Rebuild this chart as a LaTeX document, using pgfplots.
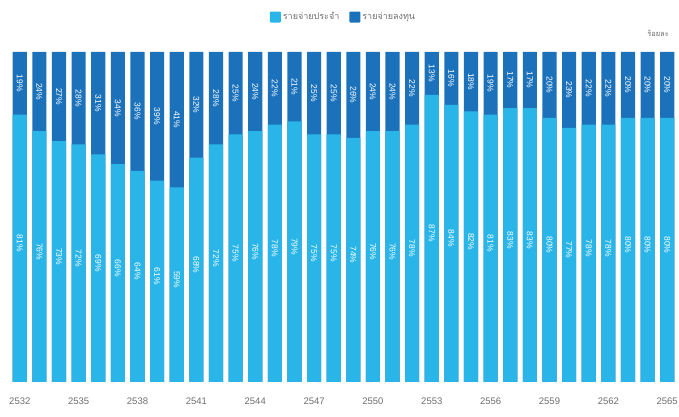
\documentclass[border=0pt]{standalone}
\usepackage{fontspec}
\setmainfont{Liberation Sans}
\newfontfamily\thaifont[Script=Thai]{Loma}
\usepackage{pgfplots}
\usepackage{pgfplotstable}
\pgfplotsset{compat=1.18}
\definecolor{lightb}{RGB}{41,181,232}
\definecolor{darkb}{RGB}{27,114,187}
\definecolor{txtgray}{RGB}{110,110,110}
\pgfplotstableread{
year light dark
2532 81 19
2533 76 24
2534 73 27
2535 72 28
2536 69 31
2537 66 34
2538 64 36
2539 61 39
2540 59 41
2541 68 32
2542 72 28
2543 75 25
2544 76 24
2545 78 22
2546 79 21
2547 75 25
2548 75 25
2549 74 26
2550 76 24
2551 76 24
2552 78 22
2553 87 13
2554 84 16
2555 82 18
2556 81 19
2557 83 17
2558 83 17
2559 80 20
2560 77 23
2561 78 22
2562 78 22
2563 80 20
2564 80 20
2565 80 20
}\data
\begin{document}
\begin{tikzpicture}
\begin{axis}[
  at={(10pt,35pt)}, anchor=south west,
  scale only axis, width=667pt, height=330pt,
  xmin=2531.5, xmax=2565.5, ymin=0, ymax=100,
  axis line style={draw=none},
  ytick=\empty,
  xtick={2532,2535,2538,2541,2544,2547,2550,2553,2556,2559,2562,2565},
  xticklabels={2532,2535,2538,2541,2544,2547,2550,2553,2556,2559,2562,2565},
  major tick length=0pt,
  xticklabel style={font=\fontsize{9.5}{11}\selectfont, text=txtgray, yshift=-12pt},
  clip=false,
  legend style={at={(axis description cs:0.5,1.106)}, anchor=center, draw=none,
    legend columns=2, font=\thaifont\fontsize{9}{11}\selectfont, text=txtgray,
    /tikz/every even column/.append style={column sep=8pt}},
  legend image code/.code={\fill[#1, rounded corners=1pt] (0pt,-5.5pt) rectangle (11pt,5.5pt);},
]
\addplot[ybar, bar width=0.72, bar shift=0pt, fill=darkb, draw=none, forget plot]
  table[x=year, y expr=\thisrow{light}+\thisrow{dark}] {\data};
\addplot[ybar, bar width=0.72, bar shift=0pt, fill=lightb, draw=none]
  table[x=year, y=light] {\data};
\addlegendentry{รายจ่ายประจำ}
\addlegendimage{fill=darkb, draw=none}
\addlegendentry{รายจ่ายลงทุน}
\addplot[draw=none, mark=none, forget plot, point meta=explicit,
  nodes near coords={\pgfmathprintnumber[fixed,precision=0,assume math mode=true]{\pgfplotspointmeta}\%},
  every node near coord/.append style={rotate=-90, anchor=center, text=white, inner sep=0pt, font=\fontsize{8.5}{10}\selectfont}]
  table[x=year, y expr=\thisrow{light}/2+1.5, meta=light] {\data};
\addplot[draw=none, mark=none, forget plot, point meta=explicit,
  nodes near coords={\pgfmathprintnumber[fixed,precision=0,assume math mode=true]{\pgfplotspointmeta}\%},
  every node near coord/.append style={rotate=-90, anchor=center, text=white, inner sep=0pt, font=\fontsize{8.5}{10}\selectfont}]
  table[x=year, y expr=\thisrow{light}+\thisrow{dark}/2, meta=dark] {\data};
\node[anchor=east, text=txtgray, font=\thaifont\fontsize{7.5}{9}\selectfont] at (axis description cs:0.993,1.055) {ร้อยละ};
\end{axis}
\pgfresetboundingbox
\useasboundingbox (0,0) rectangle (679pt,417pt);
\end{tikzpicture}
\end{document}
